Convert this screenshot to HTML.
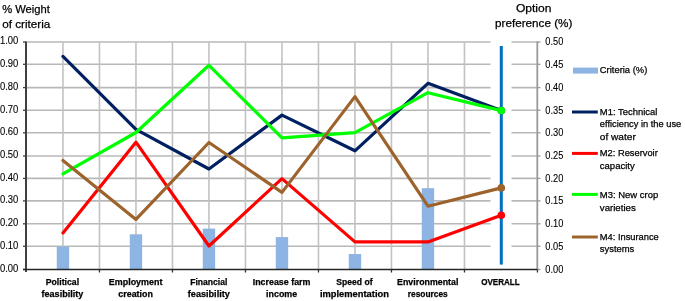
<!DOCTYPE html>
<html><head><meta charset="utf-8"><style>
html,body{margin:0;padding:0;background:#fff;}
body{width:685px;height:301px;overflow:hidden;}
svg{display:block;will-change:transform;font-family:"Liberation Sans",sans-serif;}
</style></head><body>
<svg width="685" height="301" viewBox="0 0 685 301">
<rect width="685" height="301" fill="#fff"/>
<line x1="26.46" y1="246.30" x2="537.46" y2="246.30" stroke="#B8B8B8" stroke-width="1.6"/>
<line x1="26.46" y1="223.80" x2="537.46" y2="223.80" stroke="#B8B8B8" stroke-width="1.6"/>
<line x1="26.46" y1="200.90" x2="537.46" y2="200.90" stroke="#B8B8B8" stroke-width="1.6"/>
<line x1="26.46" y1="178.40" x2="537.46" y2="178.40" stroke="#B8B8B8" stroke-width="1.6"/>
<line x1="26.46" y1="156.00" x2="537.46" y2="156.00" stroke="#B8B8B8" stroke-width="1.6"/>
<line x1="26.46" y1="132.80" x2="537.46" y2="132.80" stroke="#B8B8B8" stroke-width="1.6"/>
<line x1="26.46" y1="110.30" x2="537.46" y2="110.30" stroke="#B8B8B8" stroke-width="1.6"/>
<line x1="26.46" y1="87.60" x2="537.46" y2="87.60" stroke="#B8B8B8" stroke-width="1.6"/>
<line x1="26.46" y1="64.30" x2="537.46" y2="64.30" stroke="#B8B8B8" stroke-width="1.6"/>
<line x1="26.46" y1="42.00" x2="537.46" y2="42.00" stroke="#B8B8B8" stroke-width="1.6"/>
<line x1="62.96" y1="42.00" x2="62.96" y2="269.24" stroke="#C2C2C2" stroke-width="1.6"/>
<line x1="99.46" y1="42.00" x2="99.46" y2="269.24" stroke="#C2C2C2" stroke-width="1.6"/>
<line x1="135.96" y1="42.00" x2="135.96" y2="269.24" stroke="#C2C2C2" stroke-width="1.6"/>
<line x1="172.46" y1="42.00" x2="172.46" y2="269.24" stroke="#C2C2C2" stroke-width="1.6"/>
<line x1="208.96" y1="42.00" x2="208.96" y2="269.24" stroke="#C2C2C2" stroke-width="1.6"/>
<line x1="245.46" y1="42.00" x2="245.46" y2="269.24" stroke="#C2C2C2" stroke-width="1.6"/>
<line x1="281.96" y1="42.00" x2="281.96" y2="269.24" stroke="#C2C2C2" stroke-width="1.6"/>
<line x1="318.46" y1="42.00" x2="318.46" y2="269.24" stroke="#C2C2C2" stroke-width="1.6"/>
<line x1="354.96" y1="42.00" x2="354.96" y2="269.24" stroke="#C2C2C2" stroke-width="1.6"/>
<line x1="391.46" y1="42.00" x2="391.46" y2="269.24" stroke="#C2C2C2" stroke-width="1.6"/>
<line x1="427.96" y1="42.00" x2="427.96" y2="269.24" stroke="#C2C2C2" stroke-width="1.6"/>
<line x1="464.46" y1="42.00" x2="464.46" y2="269.24" stroke="#C2C2C2" stroke-width="1.6"/>
<line x1="500.96" y1="42.00" x2="500.96" y2="269.24" stroke="#C2C2C2" stroke-width="1.6"/>
<rect x="490.5" y="40.75" width="21" height="227.99" fill="#fff"/>
<rect x="56.76" y="246.60" width="12.4" height="22.64" fill="#8DB4E2"/>
<rect x="129.76" y="234.30" width="12.4" height="34.94" fill="#8DB4E2"/>
<rect x="202.76" y="228.60" width="12.4" height="40.64" fill="#8DB4E2"/>
<rect x="275.76" y="237.10" width="12.4" height="32.14" fill="#8DB4E2"/>
<rect x="348.76" y="254.00" width="12.4" height="15.24" fill="#8DB4E2"/>
<rect x="421.76" y="188.20" width="12.4" height="81.04" fill="#8DB4E2"/>
<line x1="501.30" y1="46" x2="501.30" y2="264.6" stroke="#0070C0" stroke-width="3"/>
<line x1="26" y1="41.45" x2="26" y2="272" stroke="#404040" stroke-width="2"/>
<line x1="23" y1="269.45" x2="26" y2="269.45" stroke="#404040" stroke-width="1.3"/>
<line x1="23" y1="246.30" x2="26" y2="246.30" stroke="#404040" stroke-width="1.3"/>
<line x1="23" y1="223.80" x2="26" y2="223.80" stroke="#404040" stroke-width="1.3"/>
<line x1="23" y1="200.90" x2="26" y2="200.90" stroke="#404040" stroke-width="1.3"/>
<line x1="23" y1="178.40" x2="26" y2="178.40" stroke="#404040" stroke-width="1.3"/>
<line x1="23" y1="156.00" x2="26" y2="156.00" stroke="#404040" stroke-width="1.3"/>
<line x1="23" y1="132.80" x2="26" y2="132.80" stroke="#404040" stroke-width="1.3"/>
<line x1="23" y1="110.30" x2="26" y2="110.30" stroke="#404040" stroke-width="1.3"/>
<line x1="23" y1="87.60" x2="26" y2="87.60" stroke="#404040" stroke-width="1.3"/>
<line x1="23" y1="64.30" x2="26" y2="64.30" stroke="#404040" stroke-width="1.3"/>
<line x1="23" y1="42.00" x2="26" y2="42.00" stroke="#404040" stroke-width="1.3"/>
<line x1="537.3" y1="41.45" x2="537.3" y2="269.24" stroke="#9A9A9A" stroke-width="1.8"/>
<line x1="537.3" y1="269.45" x2="540.5" y2="269.45" stroke="#9A9A9A" stroke-width="1.3"/>
<line x1="537.3" y1="246.30" x2="540.5" y2="246.30" stroke="#9A9A9A" stroke-width="1.3"/>
<line x1="537.3" y1="223.80" x2="540.5" y2="223.80" stroke="#9A9A9A" stroke-width="1.3"/>
<line x1="537.3" y1="200.90" x2="540.5" y2="200.90" stroke="#9A9A9A" stroke-width="1.3"/>
<line x1="537.3" y1="178.40" x2="540.5" y2="178.40" stroke="#9A9A9A" stroke-width="1.3"/>
<line x1="537.3" y1="156.00" x2="540.5" y2="156.00" stroke="#9A9A9A" stroke-width="1.3"/>
<line x1="537.3" y1="132.80" x2="540.5" y2="132.80" stroke="#9A9A9A" stroke-width="1.3"/>
<line x1="537.3" y1="110.30" x2="540.5" y2="110.30" stroke="#9A9A9A" stroke-width="1.3"/>
<line x1="537.3" y1="87.60" x2="540.5" y2="87.60" stroke="#9A9A9A" stroke-width="1.3"/>
<line x1="537.3" y1="64.30" x2="540.5" y2="64.30" stroke="#9A9A9A" stroke-width="1.3"/>
<line x1="537.3" y1="42.00" x2="540.5" y2="42.00" stroke="#9A9A9A" stroke-width="1.3"/>
<line x1="23" y1="269.5" x2="537.3" y2="269.5" stroke="#262626" stroke-width="1.5"/>
<line x1="99.46" y1="269.5" x2="99.46" y2="272.5" stroke="#303030" stroke-width="1.3"/>
<line x1="172.46" y1="269.5" x2="172.46" y2="272.5" stroke="#303030" stroke-width="1.3"/>
<line x1="245.46" y1="269.5" x2="245.46" y2="272.5" stroke="#303030" stroke-width="1.3"/>
<line x1="318.46" y1="269.5" x2="318.46" y2="272.5" stroke="#303030" stroke-width="1.3"/>
<line x1="391.46" y1="269.5" x2="391.46" y2="272.5" stroke="#303030" stroke-width="1.3"/>
<line x1="464.46" y1="269.5" x2="464.46" y2="272.5" stroke="#303030" stroke-width="1.3"/>
<line x1="537.46" y1="269.5" x2="537.46" y2="272.5" stroke="#303030" stroke-width="1.3"/>
<polyline points="62.96,56.40 135.96,129.40 208.96,169.00 281.96,115.10 354.96,150.80 427.96,83.30 501.30,110.60" fill="none" stroke="#002060" stroke-width="3.2" stroke-linejoin="round" stroke-linecap="round"/>
<circle cx="501.30" cy="110.60" r="3.8" fill="#002060"/>
<polyline points="62.96,232.90 135.96,142.20 208.96,246.00 281.96,178.60 354.96,241.90 427.96,241.90 501.30,215.30" fill="none" stroke="#FF0000" stroke-width="3.2" stroke-linejoin="round" stroke-linecap="round"/>
<circle cx="501.30" cy="215.30" r="3.8" fill="#FF0000"/>
<polyline points="62.96,173.90 135.96,132.50 208.96,65.30 281.96,137.90 354.96,132.60 427.96,92.70 501.30,110.60" fill="none" stroke="#00FF00" stroke-width="3.2" stroke-linejoin="round" stroke-linecap="round"/>
<circle cx="501.30" cy="110.60" r="3.8" fill="#00FF00"/>
<polyline points="62.96,160.40 135.96,219.40 208.96,142.50 281.96,192.40 354.96,96.60 427.96,206.20 501.30,187.90" fill="none" stroke="#9C642C" stroke-width="3.2" stroke-linejoin="round" stroke-linecap="round"/>
<circle cx="501.30" cy="187.90" r="3.8" fill="#9C642C"/>
<rect x="573" y="67.6" width="25" height="6" fill="#8DB4E2"/>
<line x1="572" y1="112" x2="597.8" y2="112" stroke="#002060" stroke-width="3"/>
<line x1="572" y1="153.4" x2="597.8" y2="153.4" stroke="#FF0000" stroke-width="3"/>
<line x1="572" y1="194.4" x2="597.8" y2="194.4" stroke="#00FF00" stroke-width="3"/>
<line x1="572" y1="237" x2="597.8" y2="237" stroke="#9C642C" stroke-width="3"/>
<text x="18.3" y="271.85" font-size="10.2" text-anchor="end" fill="#000" stroke="#000" stroke-width="0.1" textLength="18.4" lengthAdjust="spacingAndGlyphs">0.00</text>
<text x="18.3" y="248.70" font-size="10.2" text-anchor="end" fill="#000" stroke="#000" stroke-width="0.1" textLength="18.4" lengthAdjust="spacingAndGlyphs">0.10</text>
<text x="18.3" y="226.20" font-size="10.2" text-anchor="end" fill="#000" stroke="#000" stroke-width="0.1" textLength="18.4" lengthAdjust="spacingAndGlyphs">0.20</text>
<text x="18.3" y="203.30" font-size="10.2" text-anchor="end" fill="#000" stroke="#000" stroke-width="0.1" textLength="18.4" lengthAdjust="spacingAndGlyphs">0.30</text>
<text x="18.3" y="180.80" font-size="10.2" text-anchor="end" fill="#000" stroke="#000" stroke-width="0.1" textLength="18.4" lengthAdjust="spacingAndGlyphs">0.40</text>
<text x="18.3" y="158.40" font-size="10.2" text-anchor="end" fill="#000" stroke="#000" stroke-width="0.1" textLength="18.4" lengthAdjust="spacingAndGlyphs">0.50</text>
<text x="18.3" y="135.20" font-size="10.2" text-anchor="end" fill="#000" stroke="#000" stroke-width="0.1" textLength="18.4" lengthAdjust="spacingAndGlyphs">0.60</text>
<text x="18.3" y="112.70" font-size="10.2" text-anchor="end" fill="#000" stroke="#000" stroke-width="0.1" textLength="18.4" lengthAdjust="spacingAndGlyphs">0.70</text>
<text x="18.3" y="90.00" font-size="10.2" text-anchor="end" fill="#000" stroke="#000" stroke-width="0.1" textLength="18.4" lengthAdjust="spacingAndGlyphs">0.80</text>
<text x="18.3" y="66.70" font-size="10.2" text-anchor="end" fill="#000" stroke="#000" stroke-width="0.1" textLength="18.4" lengthAdjust="spacingAndGlyphs">0.90</text>
<text x="18.3" y="44.40" font-size="10.2" text-anchor="end" fill="#000" stroke="#000" stroke-width="0.1" textLength="18.4" lengthAdjust="spacingAndGlyphs">1.00</text>
<text x="545.3" y="272.65" font-size="10.2" text-anchor="start" fill="#000" stroke="#000" stroke-width="0.1" textLength="18.0" lengthAdjust="spacingAndGlyphs">0.00</text>
<text x="545.3" y="249.50" font-size="10.2" text-anchor="start" fill="#000" stroke="#000" stroke-width="0.1" textLength="18.0" lengthAdjust="spacingAndGlyphs">0.05</text>
<text x="545.3" y="227.00" font-size="10.2" text-anchor="start" fill="#000" stroke="#000" stroke-width="0.1" textLength="18.0" lengthAdjust="spacingAndGlyphs">0.10</text>
<text x="545.3" y="204.10" font-size="10.2" text-anchor="start" fill="#000" stroke="#000" stroke-width="0.1" textLength="18.0" lengthAdjust="spacingAndGlyphs">0.15</text>
<text x="545.3" y="181.60" font-size="10.2" text-anchor="start" fill="#000" stroke="#000" stroke-width="0.1" textLength="18.0" lengthAdjust="spacingAndGlyphs">0.20</text>
<text x="545.3" y="159.20" font-size="10.2" text-anchor="start" fill="#000" stroke="#000" stroke-width="0.1" textLength="18.0" lengthAdjust="spacingAndGlyphs">0.25</text>
<text x="545.3" y="136.00" font-size="10.2" text-anchor="start" fill="#000" stroke="#000" stroke-width="0.1" textLength="18.0" lengthAdjust="spacingAndGlyphs">0.30</text>
<text x="545.3" y="113.50" font-size="10.2" text-anchor="start" fill="#000" stroke="#000" stroke-width="0.1" textLength="18.0" lengthAdjust="spacingAndGlyphs">0.35</text>
<text x="545.3" y="90.80" font-size="10.2" text-anchor="start" fill="#000" stroke="#000" stroke-width="0.1" textLength="18.0" lengthAdjust="spacingAndGlyphs">0.40</text>
<text x="545.3" y="67.50" font-size="10.2" text-anchor="start" fill="#000" stroke="#000" stroke-width="0.1" textLength="18.0" lengthAdjust="spacingAndGlyphs">0.45</text>
<text x="545.3" y="45.20" font-size="10.2" text-anchor="start" fill="#000" stroke="#000" stroke-width="0.1" textLength="18.0" lengthAdjust="spacingAndGlyphs">0.50</text>
<text x="2.2" y="12.8" font-size="11.7" text-anchor="start" fill="#000" stroke="#000" stroke-width="0.25" textLength="47.7" lengthAdjust="spacingAndGlyphs">% Weight</text>
<text x="2.2" y="27.8" font-size="11.7" text-anchor="start" fill="#000" stroke="#000" stroke-width="0.25" textLength="48.1" lengthAdjust="spacingAndGlyphs">of criteria</text>
<text x="533.7" y="12" font-size="11.7" text-anchor="middle" fill="#000" stroke="#000" stroke-width="0.25" textLength="35.5" lengthAdjust="spacingAndGlyphs">Option</text>
<text x="533.7" y="26.6" font-size="11.7" text-anchor="middle" fill="#000" stroke="#000" stroke-width="0.25" textLength="77.4" lengthAdjust="spacingAndGlyphs">preference (%)</text>
<text x="62.40" y="284.6" font-size="9.2" text-anchor="middle" fill="#000" font-weight="bold" stroke="#000" stroke-width="0.25" textLength="33.3" lengthAdjust="spacingAndGlyphs">Political</text>
<text x="62.40" y="297.45" font-size="9.2" text-anchor="middle" fill="#000" font-weight="bold" stroke="#000" stroke-width="0.25" textLength="41.7" lengthAdjust="spacingAndGlyphs">feasibility</text>
<text x="135.60" y="284.6" font-size="9.2" text-anchor="middle" fill="#000" font-weight="bold" stroke="#000" stroke-width="0.25" textLength="53.6" lengthAdjust="spacingAndGlyphs">Employment</text>
<text x="135.60" y="297.45" font-size="9.2" text-anchor="middle" fill="#000" font-weight="bold" stroke="#000" stroke-width="0.25" textLength="34.6" lengthAdjust="spacingAndGlyphs">creation</text>
<text x="208.80" y="284.6" font-size="9.2" text-anchor="middle" fill="#000" font-weight="bold" stroke="#000" stroke-width="0.25" textLength="37.2" lengthAdjust="spacingAndGlyphs">Financial</text>
<text x="208.80" y="297.45" font-size="9.2" text-anchor="middle" fill="#000" font-weight="bold" stroke="#000" stroke-width="0.25" textLength="42" lengthAdjust="spacingAndGlyphs">feasibility</text>
<text x="281.60" y="284.6" font-size="9.2" text-anchor="middle" fill="#000" font-weight="bold" stroke="#000" stroke-width="0.25" textLength="57.8" lengthAdjust="spacingAndGlyphs">Increase farm</text>
<text x="281.60" y="297.45" font-size="9.2" text-anchor="middle" fill="#000" font-weight="bold" stroke="#000" stroke-width="0.25" textLength="31.1" lengthAdjust="spacingAndGlyphs">income</text>
<text x="354.40" y="284.6" font-size="9.2" text-anchor="middle" fill="#000" font-weight="bold" stroke="#000" stroke-width="0.25" textLength="36.2" lengthAdjust="spacingAndGlyphs">Speed of</text>
<text x="354.40" y="297.45" font-size="9.2" text-anchor="middle" fill="#000" font-weight="bold" stroke="#000" stroke-width="0.25" textLength="69" lengthAdjust="spacingAndGlyphs">implementation</text>
<text x="427.75" y="284.6" font-size="9.2" text-anchor="middle" fill="#000" font-weight="bold" stroke="#000" stroke-width="0.25" textLength="61.3" lengthAdjust="spacingAndGlyphs">Environmental</text>
<text x="427.75" y="297.45" font-size="9.2" text-anchor="middle" fill="#000" font-weight="bold" stroke="#000" stroke-width="0.25" textLength="40" lengthAdjust="spacingAndGlyphs">resources</text>
<text x="500.45" y="284.6" font-size="9.2" text-anchor="middle" fill="#000" font-weight="bold" stroke="#000" stroke-width="0.25" textLength="38.5" lengthAdjust="spacingAndGlyphs">OVERALL</text>
<text x="599.8" y="72.9" font-size="9.7" text-anchor="start" fill="#000" stroke="#000" stroke-width="0.25" textLength="47.5" lengthAdjust="spacingAndGlyphs">Criteria (%)</text>
<text x="599.8" y="114.9" font-size="9.7" text-anchor="start" fill="#000" stroke="#000" stroke-width="0.25" textLength="57.5" lengthAdjust="spacingAndGlyphs">M1: Technical</text>
<text x="599.8" y="127.4" font-size="9.7" text-anchor="start" fill="#000" stroke="#000" stroke-width="0.25" textLength="81.5" lengthAdjust="spacingAndGlyphs">efficiency in the use</text>
<text x="599.8" y="139.6" font-size="9.7" text-anchor="start" fill="#000" stroke="#000" stroke-width="0.25" textLength="36.0" lengthAdjust="spacingAndGlyphs">of water</text>
<text x="599.8" y="156.4" font-size="9.7" text-anchor="start" fill="#000" stroke="#000" stroke-width="0.25" textLength="58.0" lengthAdjust="spacingAndGlyphs">M2: Reservoir</text>
<text x="599.8" y="168.7" font-size="9.7" text-anchor="start" fill="#000" stroke="#000" stroke-width="0.25" textLength="35.0" lengthAdjust="spacingAndGlyphs">capacity</text>
<text x="599.8" y="197.9" font-size="9.7" text-anchor="start" fill="#000" stroke="#000" stroke-width="0.25" textLength="58.5" lengthAdjust="spacingAndGlyphs">M3: New crop</text>
<text x="599.8" y="210.5" font-size="9.7" text-anchor="start" fill="#000" stroke="#000" stroke-width="0.25" textLength="36.0" lengthAdjust="spacingAndGlyphs">varieties</text>
<text x="599.8" y="239.5" font-size="9.7" text-anchor="start" fill="#000" stroke="#000" stroke-width="0.25" textLength="59.0" lengthAdjust="spacingAndGlyphs">M4: Insurance</text>
<text x="599.8" y="251.9" font-size="9.7" text-anchor="start" fill="#000" stroke="#000" stroke-width="0.25" textLength="34.5" lengthAdjust="spacingAndGlyphs">systems</text>
</svg>
</body></html>
